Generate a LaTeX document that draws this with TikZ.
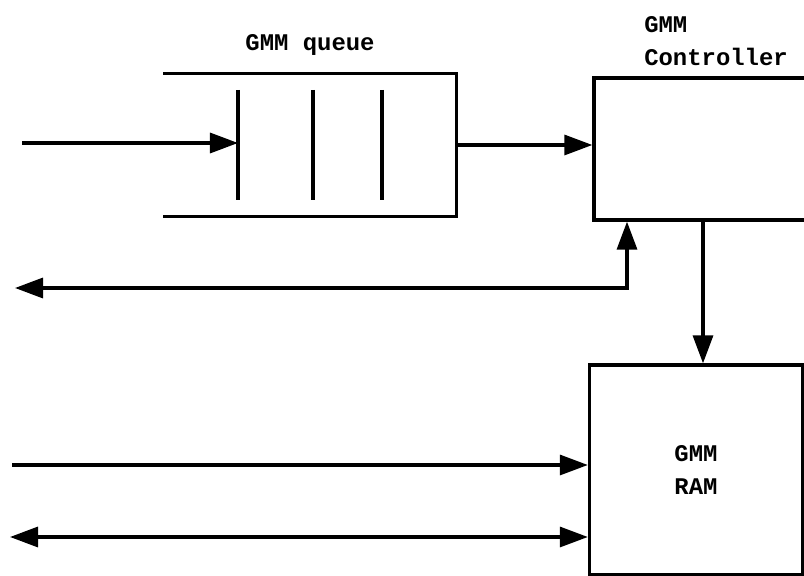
\documentclass[tikz,border=0pt]{standalone}
\usepackage{fontspec}
\newfontfamily\gmmfont{Liberation Mono}
\usetikzlibrary{arrows.meta}

\begin{document}
\begin{tikzpicture}[x=0.025cm, y=-0.025cm, line width=2.3pt,
    >={Triangle[length=0.7cm,width=0.5cm]},
    block/.style={draw, rectangle, inner sep=0pt},
    lbl/.style={font=\gmmfont\bfseries\fontsize{17}{23}\selectfont, align=left}]
  \useasboundingbox (0,0) rectangle (804,576);
  \begin{scope}
    \clip (0,0) rectangle (804,576);

    % queue
    \node (queue) [minimum width=7.25cm, minimum height=3.5cm, inner sep=0pt] at (310,145) {};
    \draw (queue.north west) -- (queue.north east) -- (queue.south east) -- (queue.south west);
    \foreach \x in {238,313,382}
      \draw (\x,90) -- (\x,200);
    \coordinate (slot) at (238,143);
    \node (qlabel) [lbl] at (310,45) {GMM queue};

    % controller and ram
    \node (ctrl) [block, minimum width=5.9cm, minimum height=3.55cm] at (712,149) {};
    \node (clabel) [lbl, anchor=west] at (638,41) {GMM\\Controller};
    \node (ram) [block, minimum width=5.325cm, minimum height=5.25cm, lbl, align=center] at (696,470) {GMM\\RAM};

    \coordinate (in1) at (22,143);
    \coordinate (bend) at (627,288);
    \coordinate (out1) at (15,288);
    \coordinate (dn) at (703,300);
    \coordinate (in2) at (12,465);
    \coordinate (io) at (10,537);

    \draw[->] (in1) -- (slot);
    \draw[->] (queue.east) -- (queue.east -| ctrl.west);
    \draw[<->] (out1) -- (bend) -- (bend |- ctrl.south);
    \draw[->] (dn |- ctrl.south) -- (dn |- ram.north);
    \draw[->] (in2) -- (in2 -| ram.west);
    \draw[<->] (io) -- (io -| ram.west);
  \end{scope}
\end{tikzpicture}
\end{document}
